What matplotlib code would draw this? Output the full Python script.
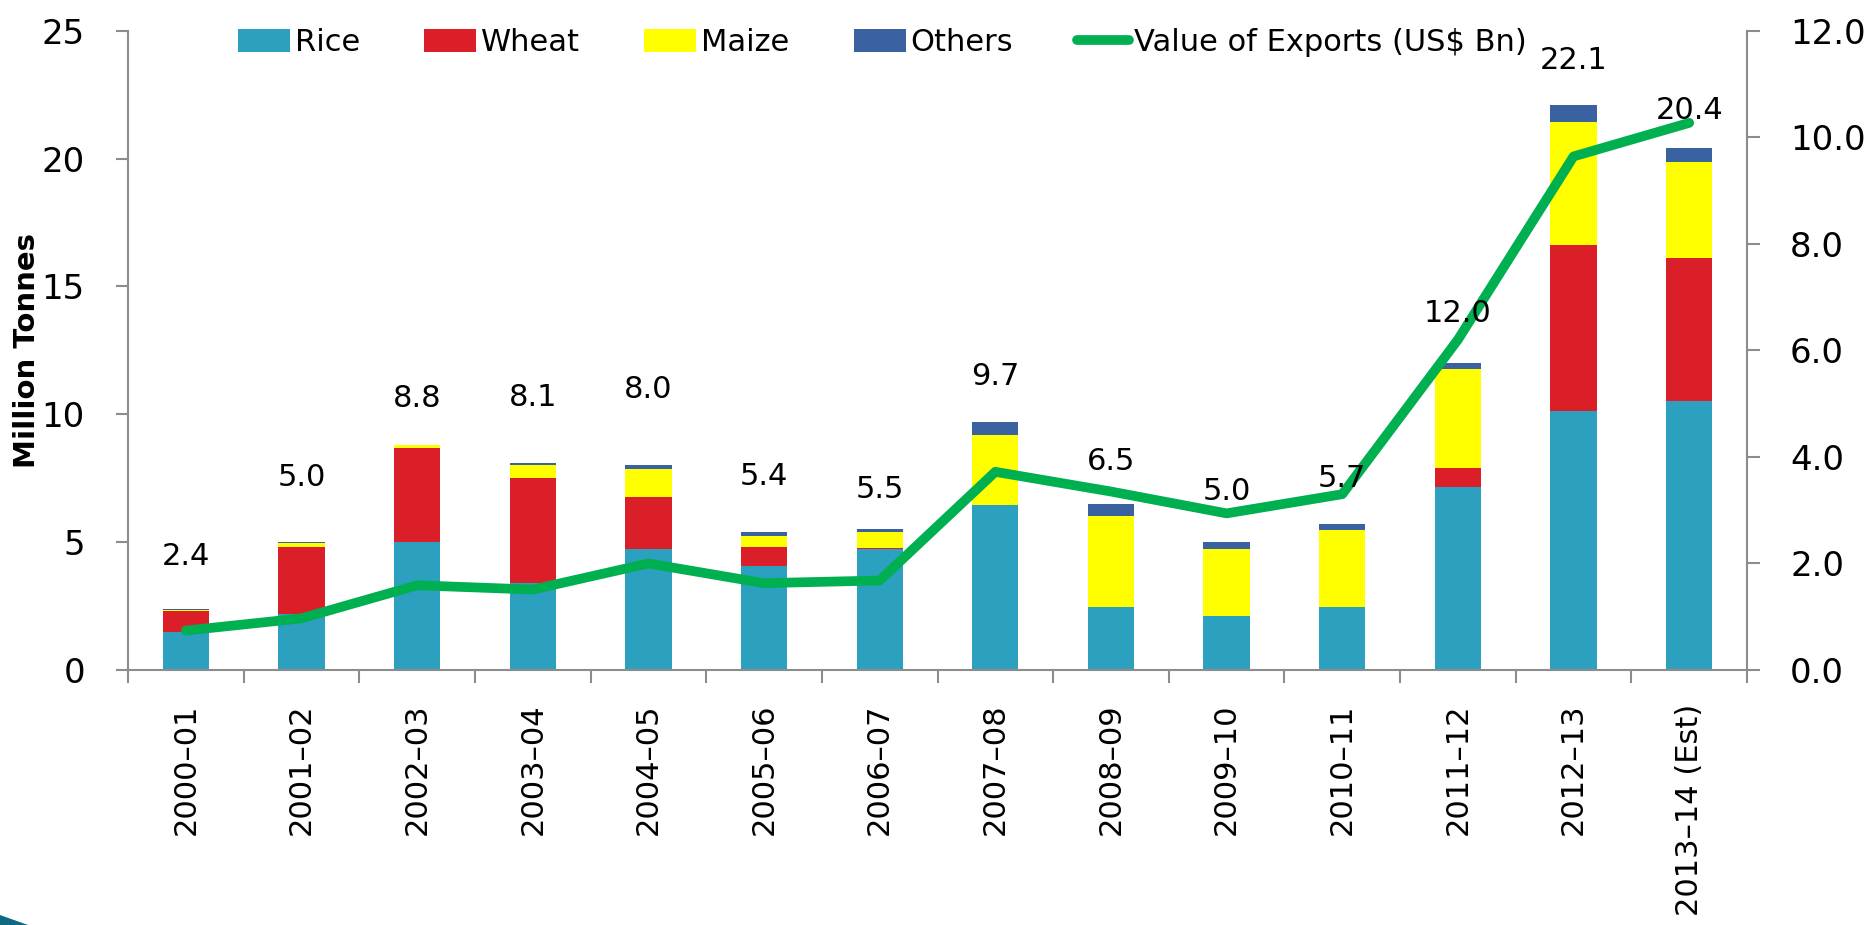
import matplotlib
matplotlib.use("Agg")
import matplotlib.pyplot as plt
import numpy as np
from matplotlib.patches import Polygon

plt.rcParams['font.family'] = ['DejaVu Sans']

# ---- data ----
years = ["2000–01", "2001–02", "2002–03", "2003–04", "2004–05", "2005–06", "2006–07",
         "2007–08", "2008–09", "2009–10", "2010–11", "2011–12", "2012–13", "2013–14 (Est)"]
rice = [1.5, 2.2, 5.0, 3.4, 4.75, 4.08, 4.73, 6.45, 2.46, 2.12, 2.46, 7.17, 10.12, 10.52]
wheat = [0.8, 2.6, 3.7, 4.1, 2.0, 0.73, 0.05, 0.0, 0.0, 0.0, 0.0, 0.73, 6.5, 5.6]
maize = [0.05, 0.15, 0.08, 0.5, 1.1, 0.43, 0.62, 2.75, 3.57, 2.6, 3.0, 3.86, 4.8, 3.76]
others = [0.05, 0.05, 0.02, 0.1, 0.15, 0.16, 0.1, 0.5, 0.47, 0.28, 0.24, 0.24, 0.68, 0.52]
totals = [2.4, 5.0, 8.8, 8.1, 8.0, 5.4, 5.5, 9.7, 6.5, 5.0, 5.7, 12.0, 22.1, 20.4]
exports_bn = [0.74, 0.97, 1.59, 1.51, 2.0, 1.63, 1.68, 3.72, 3.35, 2.94, 3.30, 6.2, 9.64, 10.27]

# label heights (left-axis units) where totals are written
label_y = [4.43, 7.52, 10.6, 10.66, 10.98, 7.56, 7.05, 11.49, 8.15, 6.97, 7.5, 13.95, 23.85, 21.89]

# ---- style ----
C_RICE, C_WHEAT, C_MAIZE, C_OTH, C_LINE = "#2CA1BF", "#DA1F28", "#FFFF00", "#3A62A0", "#00B050"
GRAY = "#8C8C8C"

W, H = 1876, 925
fig = plt.figure(figsize=(W / 100, H / 100), dpi=100)
L, R, T, B = 128, 1747, 30.7, 670
ax = fig.add_axes([L / W, 1 - B / H, (R - L) / W, (B - T) / H])

x = np.arange(len(years))
r = np.array(rice); w = np.array(wheat); m = np.array(maize); o = np.array(others)
bw = 0.4
ax.bar(x, r, bw, color=C_RICE, label="Rice", zorder=2)
ax.bar(x, w, bw, bottom=r, color=C_WHEAT, label="Wheat", zorder=2)
ax.bar(x, m, bw, bottom=r + w, color=C_MAIZE, label="Maize", zorder=2)
ax.bar(x, o, bw, bottom=r + w + m, color=C_OTH, label="Others", zorder=2)

ax.set_xlim(-0.5, len(years) - 0.5)
ax.set_ylim(0, 25)
ax.set_yticks(np.arange(0, 26, 5))
ax.set_yticklabels([str(v) for v in range(0, 26, 5)])

ax2 = ax.twinx()
ax2.plot(x, exports_bn, color=C_LINE, lw=7, solid_capstyle='round', solid_joinstyle='round',
         label="Value of Exports (US$ Bn)", zorder=3)
ax2.set_ylim(0, 12)
ax2.set_yticks(np.arange(0, 12.1, 2))
ax2.set_yticklabels([f"{v:.1f}" for v in np.arange(0, 12.1, 2)])

for a in (ax, ax2):
    a.spines['top'].set_visible(False)
    for s in a.spines.values():
        s.set_color(GRAY)
        s.set_linewidth(1.5)
ax.spines['right'].set_visible(False)
ax2.spines['left'].set_visible(False)
ax2.spines['bottom'].set_visible(False)

ax.tick_params(axis='y', direction='out', length=9, width=1.5, color=GRAY, labelsize=24.5, pad=22)
ax2.tick_params(axis='y', direction='out', length=9, width=1.5, color=GRAY, labelsize=24.5, pad=22)

ax.set_xticks(x)
ax.set_xticklabels(years, rotation=90, fontsize=22)
ax.set_xticks(np.arange(-0.5, len(years), 1), minor=True)
ax.tick_params(axis='x', which='major', length=0, pad=24)
ax.tick_params(axis='x', which='minor', direction='out', length=9, width=1.5, color=GRAY)

ax.set_ylabel("Million Tonnes", fontsize=21, fontweight='bold')
ax.yaxis.set_label_coords((41 - L) / (R - L), (B - 350) / (B - T))

ax2.set_zorder(ax.get_zorder() + 1)
ax2.patch.set_visible(False)
# totals labels (drawn on the top axes, converted to its scale)
for xi, yl, t in zip(x, label_y, totals):
    ax2.text(xi, yl * 12 / 25, f"{t:.1f}", ha='center', va='center', fontsize=22, zorder=10)

# legend
h1, l1 = ax.get_legend_handles_labels()
h2, l2 = ax2.get_legend_handles_labels()
fs = 22
fpx = fs * 100 / 72
leg = fig.legend(h1 + h2, l1 + l2, ncol=5, frameon=False, fontsize=fs,
                 loc='upper left', bbox_to_anchor=(238 / W, 1 - 28 / H),
                 handlelength=52 / fpx, handleheight=23 / fpx, handletextpad=5 / fpx,
                 columnspacing=64 / fpx, borderpad=0, borderaxespad=0)

# decorative corner wedge
fig.patches.append(Polygon([(0, 0), (0, 10 / H), (28 / W, 0)], closed=True,
                           transform=fig.transFigure, facecolor="#0E6A82", edgecolor='none'))

fig.savefig("out.png", dpi=100)
